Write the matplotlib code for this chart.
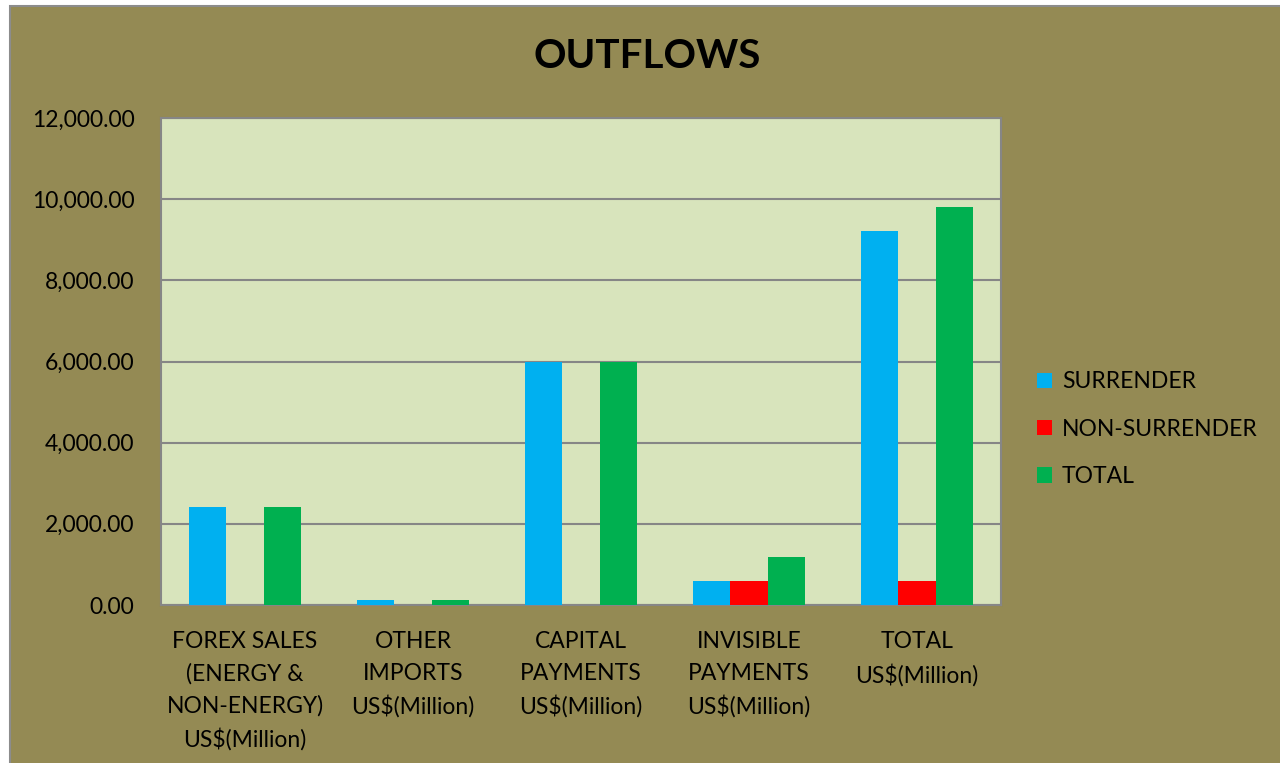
import matplotlib.pyplot as plt
import matplotlib.patches as patches
import numpy as np
from matplotlib.ticker import FuncFormatter

categories = ['FOREX SALES\n(ENERGY &\nNON-ENERGY)\nUS$(Million)',
              'OTHER\nIMPORTS\nUS$(Million)',
              'CAPITAL\nPAYMENTS\nUS$(Million)',
              'INVISIBLE\nPAYMENTS\nUS$(Million)',
              'TOTAL\nUS$(Million)']
surrender = [2420, 130, 6000, 590, 9210]
non_surrender = [0, 0, 0, 580, 580]
total = [2420, 130, 6000, 1175, 9800]

series_names = ['SURRENDER', 'NON-SURRENDER', 'TOTAL']
colors = ['#00B0F0', '#FF0000', '#00B050']

plt.rcParams['font.family'] = ['Lato', 'DejaVu Sans']

fig = plt.figure(figsize=(12.8, 7.63), dpi=100)
fig.patch.set_facecolor('white')

# olive chart area with grey border on the left/top
bg = patches.Rectangle((10 / 1280, -0.01), 1, 0.01 + (763 - 6) / 763,
                       transform=fig.transFigure, facecolor='#948A54',
                       edgecolor='#8C8C8C', linewidth=1.5, zorder=-1)
fig.patches.append(bg)

ax = fig.add_axes([161 / 1280, 158 / 763, 840 / 1280, 487 / 763])
ax.set_facecolor('#D8E4BC')

x = np.arange(len(categories))
w = 1 / 4.5
for i, (vals, name, c) in enumerate(zip([surrender, non_surrender, total], series_names, colors)):
    ax.bar(x + (i - 1) * w, vals, w, color=c, label=name, zorder=3)

ax.set_xlim(-0.5, len(categories) - 0.5)
ax.set_ylim(0, 12000)
ax.set_yticks(np.arange(0, 12001, 2000))
ax.yaxis.set_major_formatter(FuncFormatter(lambda v, p: f'{v:,.2f}'))
ax.set_xticks(x)
ax.set_xticklabels(categories, fontsize=16.5, linespacing=1.6, va='top')
ax.tick_params(axis='both', length=0, labelsize=16.5, colors='black')
ax.tick_params(axis='x', pad=19)
ax.tick_params(axis='y', pad=19)
ax.grid(axis='y', color='#868686', linewidth=1.5, zorder=1)
ax.set_axisbelow(True)
for s in ax.spines.values():
    s.set_color('#868686')
    s.set_linewidth(1.5)

fig.text(647 / 1280, (763 - 57) / 763, 'OUTFLOWS',
         fontsize=29, fontweight='bold', ha='center', va='center')

leg = ax.legend(loc='center left', bbox_to_anchor=(1.018, 0.361), frameon=False,
                fontsize=16.5, handlelength=0.65, handleheight=0.65,
                handletextpad=0.45, labelspacing=1.15)

fig.savefig('out.png', dpi=100, facecolor=fig.get_facecolor())
